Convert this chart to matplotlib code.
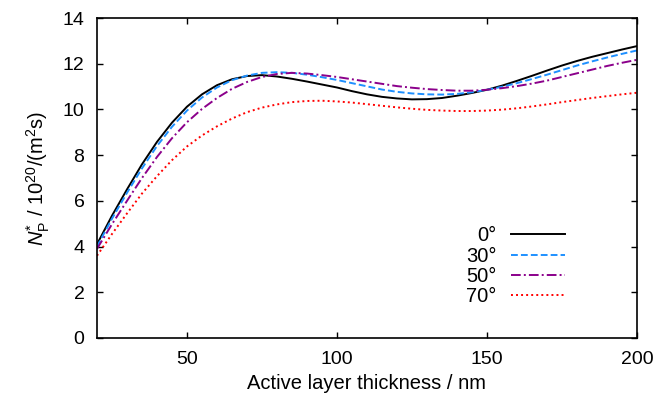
import matplotlib
matplotlib.use("Agg")
import matplotlib.pyplot as plt

plt.rcParams['font.family'] = ['Liberation Sans', 'DejaVu Sans']
plt.rcParams['mathtext.fontset'] = 'custom'
plt.rcParams['mathtext.rm'] = 'Liberation Sans'
plt.rcParams['mathtext.it'] = 'Liberation Sans:italic'
plt.rcParams['mathtext.bf'] = 'Liberation Sans:bold'

thickness = [20, 25, 30, 35, 40, 45, 50, 55, 60, 65, 70, 75, 80, 85, 90, 95,
             100, 105, 110, 115, 120, 125, 130, 135, 140, 145, 150, 155, 160,
             165, 170, 175, 180, 185, 190, 195, 200]

angle_0 = [4.1, 5.35, 6.5, 7.6, 8.58, 9.42, 10.12, 10.66, 11.06, 11.32, 11.46,
           11.5, 11.44, 11.34, 11.22, 11.09, 10.96, 10.8, 10.66, 10.55, 10.48,
           10.44, 10.45, 10.5, 10.6, 10.72, 10.86, 11.04, 11.25, 11.47, 11.7,
           11.92, 12.12, 12.3, 12.46, 12.62, 12.77]
angle_30 = [4.0, 5.22, 6.35, 7.42, 8.4, 9.24, 9.95, 10.52, 10.96, 11.28, 11.48,
            11.6, 11.63, 11.6, 11.52, 11.41, 11.29, 11.15, 11.01, 10.87, 10.77,
            10.7, 10.66, 10.65, 10.68, 10.75, 10.86, 10.99, 11.15, 11.33, 11.52,
            11.72, 11.92, 12.1, 12.27, 12.43, 12.58]
angle_50 = [3.9, 4.98, 6.0, 7.0, 7.92, 8.74, 9.44, 10.02, 10.5, 10.9, 11.2,
            11.42, 11.55, 11.6, 11.57, 11.5, 11.42, 11.32, 11.22, 11.12, 11.02,
            10.95, 10.89, 10.85, 10.82, 10.82, 10.86, 10.93, 11.02, 11.13, 11.26,
            11.42, 11.58, 11.74, 11.9, 12.04, 12.17]
angle_70 = [3.6, 4.55, 5.45, 6.32, 7.08, 7.78, 8.38, 8.86, 9.26, 9.6, 9.88,
            10.08, 10.22, 10.32, 10.37, 10.38, 10.35, 10.3, 10.23, 10.16, 10.09,
            10.03, 9.98, 9.95, 9.93, 9.93, 9.95, 9.99, 10.05, 10.13, 10.22,
            10.32, 10.41, 10.5, 10.58, 10.66, 10.73]

labels = ['0°', '30°', '50°', '70°']
colors = ['#000000', '#1E90FF', '#8B008B', '#FF0000']
styles = ['-', (0, (3.5, 1.6)), (0, (5, 1.6, 1, 1.6)), (0, (1, 1.6))]

fig = plt.figure(figsize=(6.58, 4.0), dpi=100)
ax = fig.add_axes([0.1474, 0.155, 0.8206, 0.80])

for ys, lab, c, ls in zip([angle_0, angle_30, angle_50, angle_70], labels, colors, styles):
    ax.plot(thickness, ys, color=c, linestyle=ls, linewidth=1.4, label=lab)

ax.set_xlim(20, 200)
ax.set_ylim(0, 14)
ax.set_xticks([50, 100, 150, 200])
ax.set_yticks(range(0, 15, 2))
ax.tick_params(direction='in', top=True, right=True, length=4, width=1,
               labelsize=14, pad=9)
for s in ax.spines.values():
    s.set_linewidth(1.2)

ax.set_xlabel('Active layer thickness / nm', fontsize=14.5, labelpad=5)
ax.set_ylabel(r'$N^{*}_{\mathrm{P}}$ / 10$^{20}$/(m$^{2}$s)', fontsize=14.5, labelpad=8)

ax.legend(loc='lower right', bbox_to_anchor=(0.867, 0.1), markerfirst=False,
          frameon=False, fontsize=14.5, handlelength=2.7, handletextpad=0.7,
          labelspacing=0.06, borderpad=0, borderaxespad=0)

fig.savefig('out.png', dpi=100)
